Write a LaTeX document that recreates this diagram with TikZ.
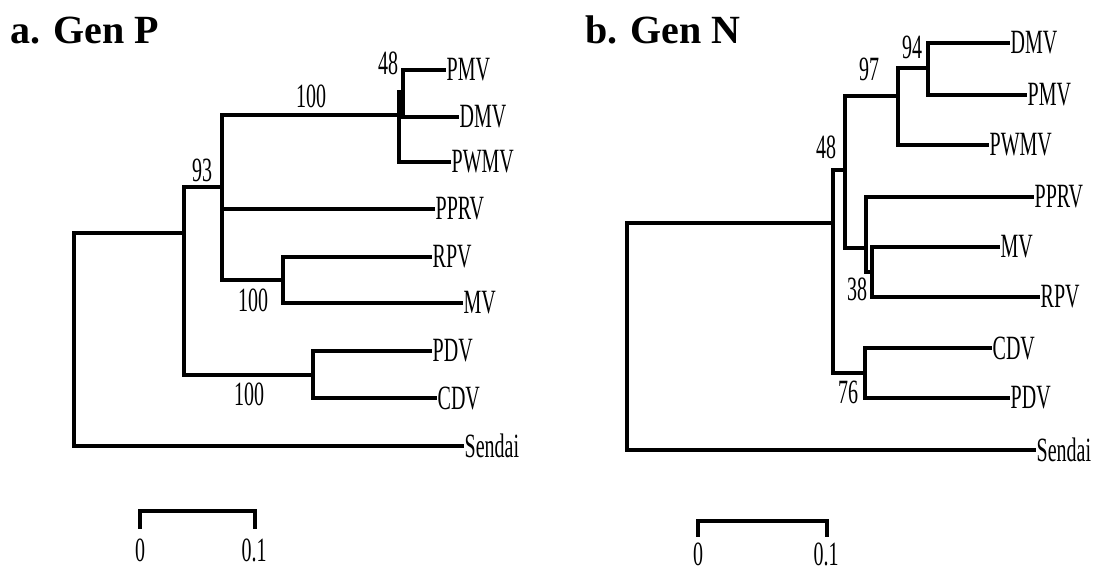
\documentclass[tikz,border=0pt]{standalone}
\usepackage{fontspec}
\setmainfont{Liberation Serif}
\usepackage{graphicx}
\newcommand{\tallt}[1]{\scalebox{1}[1.7]{#1}}
\tikzset{
  br/.style={line width=3.5pt, line join=miter, line cap=rect},
  sbar/.style={line width=3.5pt, line join=miter, line cap=rect},
  leaf/.style={anchor=west, inner xsep=2.5pt, inner ysep=0pt, font=\fontsize{20}{20}\selectfont},
  bval/.style={inner sep=0pt, font=\fontsize{20}{20}\selectfont},
  ttl/.style={anchor=base west, inner sep=0pt, font=\fontsize{40}{40}\bfseries\selectfont}
}
\begin{document}
\begin{tikzpicture}[x=1pt,y=-1pt]
\useasboundingbox[fill=white] (0,0) rectangle (1105,573);

% ---------------- panel a ----------------
\node[ttl] (ta) at (10,43) {a. Gen P};
\coordinate (aR) at (74,340);
\coordinate (aA1) at (184,233);
\coordinate (aN93) at (222,187);
\coordinate (aN100) at (399,115);
\coordinate (aN48) at (403,92);
\coordinate (aNRM) at (283,280);
\coordinate (aNPC) at (313,375);
\node[leaf] (aPMV) at (444,70) {\tallt{PMV}};
\node[leaf] (aDMV) at (457,117) {\tallt{DMV}};
\node[leaf] (aPWMV) at (449,162) {\tallt{PWMV}};
\node[leaf] (aPPRV) at (433,209) {\tallt{PPRV}};
\node[leaf] (aRPV) at (430,257) {\tallt{RPV}};
\node[leaf] (aMV) at (461,303) {\tallt{MV}};
\node[leaf] (aPDV) at (430,351) {\tallt{PDV}};
\node[leaf] (aCDV) at (435,398) {\tallt{CDV}};
\node[leaf] (aSen) at (462,446) {\tallt{Sendai}};
\draw[br] (aR) |- (aA1);
\draw[br] (aR) |- (aSen.west);
\draw[br] (aA1) |- (aN93);
\draw[br] (aA1) |- (aNPC);
\draw[br] (aN93) |- (aN100);
\draw[br] (aN93) |- (aPPRV.west);
\draw[br] (aN93) |- (aNRM);
\draw[br] (aN100) |- (aN48);
\draw[br] (aN100) |- (aPWMV.west);
\draw[br] (aN48) |- (aPMV.west);
\draw[br] (aN48) |- (aDMV.west);
\draw[br] (aNRM) |- (aRPV.west);
\draw[br] (aNRM) |- (aMV.west);
\draw[br] (aNPC) |- (aPDV.west);
\draw[br] (aNPC) |- (aCDV.west);
\node[bval] (av48) at (388,63) {\tallt{48}};
\node[bval] (av100a) at (311,96) {\tallt{100}};
\node[bval] (av93) at (202,170) {\tallt{93}};
\node[bval] (av100b) at (253,300) {\tallt{100}};
\node[bval] (av100c) at (249,394) {\tallt{100}};
% scale bar a
\coordinate (asb0) at (140,527);
\coordinate (asb1) at (255,527);
\draw[sbar] (asb0) -- ++(0,-16) -| (asb1);
\node[bval] (az0) at (140,550) {\tallt{0}};
\node[bval] (az1) at (254,550) {\tallt{0.1}};

% ---------------- panel b ----------------
\node[ttl] (tb) at (585,43) {b. Gen N};
\coordinate (bR) at (627,336);
\coordinate (bN48) at (833,223);
\coordinate (bNup) at (845,170);
\coordinate (bN97) at (898,96);
\coordinate (bN94) at (928,68);
\coordinate (bNlow) at (866,248);
\coordinate (bN38) at (872,272);
\coordinate (bN76) at (865,373);
\node[leaf] (bDMV) at (1008,43) {\tallt{DMV}};
\node[leaf] (bPMV) at (1025,95) {\tallt{PMV}};
\node[leaf] (bPWMV) at (987,145) {\tallt{PWMV}};
\node[leaf] (bPPRV) at (1032,197) {\tallt{PPRV}};
\node[leaf] (bMV) at (998,247) {\tallt{MV}};
\node[leaf] (bRPV) at (1038,297) {\tallt{RPV}};
\node[leaf] (bCDV) at (990,348) {\tallt{CDV}};
\node[leaf] (bPDV) at (1008,398) {\tallt{PDV}};
\node[leaf] (bSen) at (1034,450) {\tallt{Sendai}};
\draw[br] (bR) |- (bN48);
\draw[br] (bR) |- (bSen.west);
\draw[br] (bN48) |- (bNup);
\draw[br] (bN48) |- (bN76);
\draw[br] (bNup) |- (bN97);
\draw[br] (bNup) |- (bNlow);
\draw[br] (bN97) |- (bN94);
\draw[br] (bN97) |- (bPWMV.west);
\draw[br] (bN94) |- (bDMV.west);
\draw[br] (bN94) |- (bPMV.west);
\draw[br] (bNlow) |- (bPPRV.west);
\draw[br] (bNlow) |- (bN38);
\draw[br] (bN38) |- (bMV.west);
\draw[br] (bN38) |- (bRPV.west);
\draw[br] (bN76) |- (bCDV.west);
\draw[br] (bN76) |- (bPDV.west);
\node[bval] (bv94) at (912,47) {\tallt{94}};
\node[bval] (bv97) at (869,69) {\tallt{97}};
\node[bval] (bv48) at (826,147) {\tallt{48}};
\node[bval] (bv38) at (857,289) {\tallt{38}};
\node[bval] (bv76) at (848,392) {\tallt{76}};
% scale bar b
\coordinate (bsb0) at (698,535);
\coordinate (bsb1) at (827,535);
\draw[sbar] (bsb0) -- ++(0,-14) -| (bsb1);
\node[bval] (bz0) at (698,554) {\tallt{0}};
\node[bval] (bz1) at (826,554) {\tallt{0.1}};
\end{tikzpicture}
\end{document}
